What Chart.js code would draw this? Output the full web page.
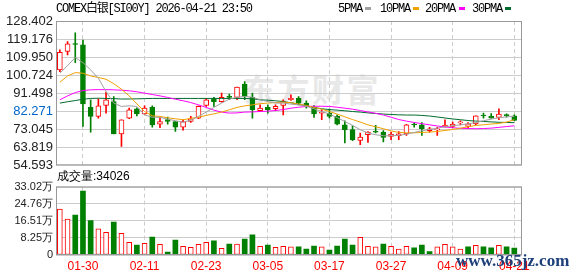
<!DOCTYPE html>
<html>
<head>
<meta charset="utf-8">
<script src="https://cdn.jsdelivr.net/npm/chart.js@4.4.0/dist/chart.umd.min.js"></script>
<style>
body{margin:0;background:#fff;width:578px;height:276px;overflow:hidden;position:relative;font-family:"Liberation Sans",Arial,sans-serif}
canvas{position:absolute;left:0}
.t{position:absolute;white-space:nowrap}
.mono{font:12px "Liberation Mono","Noto Sans CJK SC",monospace;letter-spacing:-1.2px;line-height:12px;color:#000}
.sq{position:absolute;width:6px;height:3px;top:7px}
</style>
</head>
<body>
<div class="t" style="left:243px;top:72px;font:bold 32px 'Noto Sans CJK SC';letter-spacing:2.5px;line-height:32px;color:#e8e8e8">东方财富</div>
<canvas id="kChart" width="578" height="180" style="top:0;width:578px;height:180px"></canvas>
<canvas id="volChart" width="578" height="106" style="top:170px;width:578px;height:106px"></canvas>
<div class="t mono" style="left:56px;top:3px">COMEX白银[SI00Y] 2026-04-21 23:50</div>
<div class="t mono" style="left:338px;top:3px">5PMA</div><div class="sq" style="left:365px;background:#a0a0a0"></div>
<div class="t mono" style="left:380px;top:3px">10PMA</div><div class="sq" style="left:413px;background:#f0a000"></div>
<div class="t mono" style="left:425px;top:3px">20PMA</div><div class="sq" style="left:459px;background:#ff00ff"></div>
<div class="t mono" style="left:472px;top:3px">30PMA</div><div class="sq" style="left:505px;background:#006b2e"></div>
<div class="t" style="left:57px;top:170px;font-size:12px;line-height:12px;color:#000">成交量:34026</div>
<div class="t" style="left:456px;top:252px;font:bold 17px 'Liberation Serif';line-height:17px;color:#1e3f7a">www.365jz.com</div>
<script>
const dates = ['01-27','01-28','01-29','01-30','02-02','02-03','02-04','02-05','02-06','02-09',
  '02-10','02-11','02-12','02-13','02-16','02-17','02-18','02-19','02-20','02-23',
  '02-24','02-25','02-26','02-27','03-02','03-03','03-04','03-05','03-06','03-09',
  '03-10','03-11','03-12','03-13','03-16','03-17','03-18','03-19','03-20','03-23',
  '03-24','03-25','03-26','03-27','03-30','03-31','04-01','04-02','04-06','04-07',
  '04-08','04-09','04-10','04-13','04-14','04-15','04-16','04-17','04-20','04-21'];
const xTickLabels = ['01-30','02-11','02-23','03-05','03-17','03-27','04-09','04-21'];

const open = [103.4,112.8,116.6,116.2,84.3,79.6,85.2,87.2,70.6,78.7,
  83.5,80.9,84.3,75.6,78.0,76.9,74.1,77.0,78.7,85.2,
  88.6,87.2,89.5,89.3,96.1,89.4,82.6,84.2,83.5,85.2,
  88.1,88.9,86.4,84.2,81.2,81.3,79.6,75.3,72.8,67.3,
  70.2,71.6,71.6,69.4,69.7,70.7,75.4,75.3,72.3,72.7,
  74.3,74.5,76.3,74.5,75.8,80.0,79.7,79.1,80.1,79.9];
const close = [112.4,116.7,116.4,86.0,79.6,85.0,88.1,70.6,77.9,83.0,
  80.9,83.8,75.3,77.0,77.0,74.1,77.0,78.4,84.7,88.1,
  87.2,89.4,89.3,94.6,89.8,83.0,83.8,83.0,84.7,87.2,
  88.9,86.4,84.7,80.9,81.3,79.6,75.6,72.8,67.7,69.0,
  71.6,71.5,68.9,70.6,70.7,75.3,75.2,73.3,73.3,72.9,
  75.0,75.7,76.4,75.8,79.9,79.8,78.7,80.8,80.0,77.5];
const high = [113.6,117.9,122.4,118.7,88.1,88.6,92.0,89.8,77.9,83.8,
  84.0,85.0,85.0,79.2,79.2,77.0,77.9,79.6,85.0,88.9,
  89.3,91.5,91.0,94.6,97.4,91.5,85.5,85.5,85.5,88.1,
  90.6,89.8,87.6,85.2,83.0,83.3,80.4,77.4,74.8,71.1,
  71.9,75.0,72.3,71.6,71.9,75.6,76.5,76.5,74.0,74.0,
  77.9,76.7,77.4,76.5,79.9,81.3,81.1,83.5,80.9,80.4];
const low = [102.5,111.0,107.1,74.5,71.6,78.7,81.3,70.6,64.3,78.4,
  79.9,80.6,74.1,73.9,75.6,71.9,72.5,76.5,78.4,84.7,
  84.7,86.9,88.1,88.1,88.1,78.7,82.1,81.3,82.5,80.4,
  87.8,85.5,83.8,79.1,77.9,78.7,75.3,66.0,67.2,65.1,
  66.3,71.1,66.5,67.7,67.7,69.9,74.1,69.9,71.6,69.9,
  74.1,74.0,75.3,73.6,75.3,78.7,78.7,77.9,79.2,77.4];

// moving averages
const ma5 = [101.7,105.6,109.7,107.1,103.4,99.1,92.3,86.4,84.7,85.0,
  84.7,80.4,79.2,79.1,78.2,77.4,76.6,77.7,79.6,81.8,
  84.2,86.4,88.4,89.4,89.8,89.4,88.1,87.2,86.4,86.4,
  85.9,85.5,84.7,83.5,82.1,80.8,79.0,77.0,75.0,72.8,
  71.1,70.2,69.7,69.7,69.9,70.5,71.4,72.3,72.9,73.6,
  74.3,74.8,75.3,75.8,76.5,77.4,78.2,78.9,79.4,79.6];
const ma10 = [97.1,100.3,102.0,101.7,100.3,99.5,98.6,96.3,93.5,90.1,
  86.0,82.1,79.9,79.6,78.9,78.4,77.9,78.6,79.2,80.1,
  80.9,81.8,83.0,84.2,85.0,85.5,86.1,86.4,86.7,86.9,
  86.6,85.9,85.2,84.2,83.3,82.1,80.8,79.4,78.0,76.7,
  75.3,74.3,73.3,72.2,71.4,71.2,71.2,71.4,71.6,71.9,
  72.4,72.9,73.6,74.3,75.0,75.3,75.7,76.0,76.7,77.9];
const ma20 = [88.1,90.1,91.8,92.8,93.2,93.3,93.3,93.2,93.0,92.7,
  92.2,91.5,90.8,90.1,89.3,88.4,87.6,86.7,85.5,84.2,
  82.8,81.8,81.3,81.4,81.8,81.9,82.1,82.3,82.6,83.1,
  83.8,84.3,84.7,84.8,84.8,84.7,84.3,83.8,83.3,82.6,
  81.9,81.2,80.3,79.2,78.0,77.2,76.5,75.9,75.3,74.7,
  74.2,73.8,73.5,73.4,73.3,73.4,73.6,74.0,74.4,74.8];
const ma30 = [86.4,87.1,87.7,88.4,88.8,88.9,88.8,88.7,88.5,88.5,
  88.6,88.7,88.8,88.8,88.8,88.8,88.8,88.8,88.8,88.8,
  88.8,88.8,88.8,88.8,88.8,88.6,88.1,87.9,87.6,87.2,
  86.6,85.8,85.0,84.2,83.5,83.1,82.8,82.5,82.1,81.8,
  81.4,81.1,80.8,80.6,80.4,80.3,80.3,80.1,79.8,79.3,
  78.8,78.3,77.9,77.5,77.2,77.0,76.8,76.6,76.5,76.4];

const volume = [222000,174000,193000,309000,166000,126000,110000,159000,105000,61000,
  48000,56000,87000,52000,14500,72000,42000,37000,52000,61000,
  68000,32000,53000,53000,77000,97000,42000,48000,37000,42000,
  39000,39000,29000,43500,39000,24000,43500,77000,48000,85000,
  42000,39000,53000,42000,29000,42000,35000,48000,16000,39000,
  52000,39000,29000,39000,47000,39000,35000,47000,39000,34026];
const volUp = [1,1,0,0,0,1,1,0,1,1, 0,1,0,1,0,0,1,1,1,1, 0,1,0,1,0,0,1,0,1,1,
  1,0,0,0,1,0,0,0,0,1, 1,1,0,1,1,1,0,0,0,1, 1,1,1,0,1,0,0,1,0,0];

const priceTicks = [54.593,63.819,73.045,82.271,91.498,100.724,109.950,119.176,128.402];
const volTicks = [0,82550,165100,247650,330200];
const volTickLabels = ['0','8.25万','16.51万','24.76万','33.02万'];

const RED = '#ff0000', GREEN = '#008000';
const up = close.map((c,i) => c >= open[i]);
const xIdx = xTickLabels.map(d => dates.indexOf(d));
const pts = arr => arr.map((v,i) => ({x:i, y:v}));

const frame = { id:'frame', afterDraw(c){
  const {ctx, chartArea:a} = c;
  ctx.save(); ctx.strokeStyle = '#999'; ctx.lineWidth = 1;
  ctx.strokeRect(a.left+0.5, a.top+0.5, a.right-a.left-1, a.bottom-a.top-1);
  ctx.restore();
}};

const xScale = show => ({
  type:'linear', min:-0.5, max:60, offset:false,
  grid:{color:'#cccccc', drawTicks:false, offset:false},
  border:{display:false, dash:[4,3]},
  afterBuildTicks: s => { s.ticks = xIdx.map(v => ({value:v})); },
  ticks:{display:show, color:RED, padding:4, maxRotation:0, autoSkip:false,
    font:{size:12, family:'Liberation Sans'}, callback: v => dates[v]},
  afterFit: s => { s.height = show ? 21 : 0; }
});

const line = (arr, color) => ({type:'line', data:pts(arr), borderColor:color, borderWidth:1,
  pointRadius:0, tension:0, order:1});

new Chart(document.getElementById('kChart').getContext('2d'), {
  type:'bar',
  data:{ datasets:[
    line(ma5,'#a0a0a0'), line(ma10,'#f0a000'), line(ma20,'#ff00ff'), line(ma30,'#006b2e'),
    { type:'bar', data: dates.map((d,i) => ({x:i, y:[low[i], high[i]]})),
      backgroundColor: up.map(u => u ? RED : GREEN), barThickness:1, grouped:false, order:3 },
    { type:'bar', data: dates.map((d,i) => ({x:i, y:[open[i], close[i]]})),
      backgroundColor: up.map(u => u ? '#fff' : GREEN), borderColor: up.map(u => u ? RED : GREEN),
      borderWidth:1, borderSkipped:false, barThickness:5, minBarLength:1, grouped:false, order:2 }
  ]},
  options:{
    responsive:false, animation:false, devicePixelRatio:1,
    layout:{ padding:{top:21, bottom:14.7, left:0, right:56} },
    plugins:{ legend:{display:false}, tooltip:{enabled:false} },
    scales:{
      x: xScale(false),
      y: { min:54.593, max:128.402,
        afterBuildTicks: s => { s.ticks = priceTicks.map(v => ({value:v})); },
        grid:{color:'#cccccc', drawTicks:false}, border:{display:false},
        ticks:{ padding:3, autoSkip:false, font:{size:13, family:'Liberation Sans'},
          color: c => (c.tick && c.tick.value === 82.271) ? '#0066cc' : '#222',
          callback: v => v.toFixed(3) },
        afterFit: s => { s.width = 56; } }
    }
  },
  plugins:[frame]
});

new Chart(document.getElementById('volChart').getContext('2d'), {
  type:'bar',
  data:{ datasets:[{
    data: pts(volume),
    backgroundColor: volUp.map(u => u ? '#fff' : GREEN),
    borderColor: volUp.map(u => u ? RED : GREEN),
    borderWidth: volUp.map(u => u ? 1 : 0),
    borderSkipped:false, barThickness:5, grouped:false
  }]},
  options:{
    responsive:false, animation:false, devicePixelRatio:1,
    layout:{ padding:{top:16.7, bottom:0, left:0, right:56} },
    plugins:{ legend:{display:false}, tooltip:{enabled:false} },
    scales:{
      x: xScale(true),
      y: { min:0, max:330200,
        afterBuildTicks: s => { s.ticks = volTicks.map(v => ({value:v})); },
        grid:{color:'#cccccc', drawTicks:false}, border:{display:false},
        ticks:{ padding:3, autoSkip:false, color:'#222', font:{size:11, family:'Liberation Sans'},
          callback: (v,i) => volTickLabels[i] },
        afterFit: s => { s.width = 56; } }
    }
  },
  plugins:[frame]
});
</script>
</body>
</html>
